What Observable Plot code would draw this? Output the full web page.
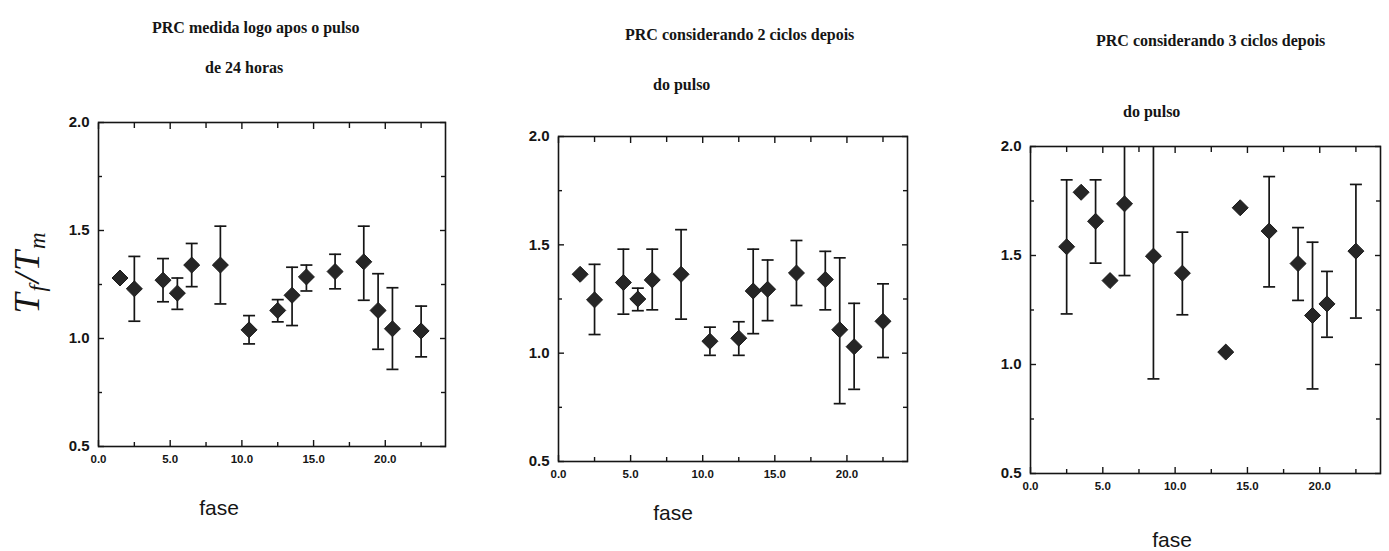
<!DOCTYPE html>
<html><head><meta charset="utf-8">
<script src="https://cdn.jsdelivr.net/npm/d3@7"></script>
<script src="https://cdn.jsdelivr.net/npm/@observablehq/plot@0.6"></script>
<style>
body{margin:0;background:#fff;}
#root{position:relative;width:1389px;height:551px;overflow:hidden;background:#fff;}
.t{position:absolute;font-family:"Liberation Serif",serif;font-weight:bold;font-size:16px;line-height:16px;white-space:nowrap;color:#151515;}
.fase{position:absolute;font-family:"Liberation Sans",Arial,sans-serif;font-size:21px;line-height:21px;color:#151515;transform:translateX(-50%);white-space:nowrap;}
.panel{position:absolute;}
.ylab{position:absolute;font-family:"Liberation Serif",serif;font-style:italic;font-size:36px;line-height:40px;white-space:nowrap;color:#151515;transform:translate(-50%,-50%) rotate(-90deg);letter-spacing:2px;padding:0 4px;}
.ylab sub{font-size:23px;vertical-align:-6px;line-height:0;}
svg.panel g[aria-label="x-axis tick label"]{font-size:11.5px;font-weight:bold;font-family:"Liberation Sans",Arial,sans-serif;}
svg.panel g[aria-label="y-axis tick label"]{font-size:15px;font-weight:bold;font-family:"Liberation Sans",Arial,sans-serif;}
</style></head><body>
<div id="root"></div>
<script>
// ---- data ----
const titles1 = ["PRC medida logo apos o pulso", "de 24 horas"];
const titles2 = ["PRC considerando 2 ciclos depois", "do pulso"];
const titles3 = ["PRC considerando 3 ciclos depois", "do pulso"];
const xLabel = "fase";

const xTicks = [0, 5, 10, 15, 20];
const xMinor = [2.5, 7.5, 12.5, 17.5, 22.5];
const yTicks = [0.5, 1.0, 1.5, 2.0];
const yMinor = [0.75, 1.25, 1.75];
const xDomain = [0, 24.2];
const yDomain = [0.5, 2.0];

const fase1 = [1.5, 2.5, 4.5, 5.5, 6.5, 8.5, 10.5, 12.5, 13.5, 14.5, 16.5, 18.5, 19.5, 20.5, 22.5];
const val1  = [1.28, 1.23, 1.27, 1.21, 1.34, 1.34, 1.04, 1.13, 1.20, 1.285, 1.31, 1.355, 1.13, 1.045, 1.035];
const lo1   = [null, 1.08, 1.17, 1.135, 1.24, 1.16, 0.975, 1.077, 1.06, 1.22, 1.23, 1.177, 0.95, 0.857, 0.915];
const hi1   = [null, 1.38, 1.37, 1.28, 1.44, 1.52, 1.106, 1.18, 1.33, 1.34, 1.39, 1.52, 1.30, 1.235, 1.15];

const fase2 = [1.5, 2.5, 4.5, 5.5, 6.5, 8.5, 10.5, 12.5, 13.5, 14.5, 16.5, 18.5, 19.5, 20.5, 22.5];
const val2  = [1.364, 1.246, 1.326, 1.25, 1.338, 1.364, 1.055, 1.069, 1.287, 1.295, 1.37, 1.34, 1.108, 1.03, 1.147];
const lo2   = [null, 1.086, 1.18, 1.196, 1.2, 1.157, 0.99, 0.99, 1.09, 1.15, 1.22, 1.2, 0.767, 0.833, 0.98];
const hi2   = [null, 1.41, 1.48, 1.30, 1.48, 1.57, 1.12, 1.145, 1.48, 1.43, 1.52, 1.47, 1.44, 1.23, 1.32];

const fase3 = [2.5, 3.5, 4.5, 5.5, 6.5, 8.5, 10.5, 13.5, 14.5, 16.5, 18.5, 19.5, 20.5, 22.5];
const val3  = [1.54, 1.79, 1.657, 1.385, 1.737, 1.497, 1.419, 1.057, 1.719, 1.612, 1.463, 1.225, 1.278, 1.52];
const lo3   = [1.232, null, 1.465, null, 1.408, 0.934, 1.228, null, null, 1.356, 1.294, 0.888, 1.125, 1.213];
const hi3   = [1.847, null, 1.847, null, 2.07, 2.06, 1.607, null, null, 1.862, 1.628, 1.561, 1.427, 1.826];

// ---- layout ----
const root = document.getElementById("root");
const ink = "#151515";
const cap = {draw(ctx) { ctx.moveTo(-6, 0); ctx.lineTo(6, 0); }};
const fmt = d3.format(".1f");

function panel(fase, val, lo, hi, frameLeft, frameTop, w, h) {
  const pts = fase.map((f, i) => ({f, v: val[i], lo: lo[i], hi: hi[i]}));
  const bars = pts.filter(d => d.lo != null);
  const ml = 48, mr = 8, mt = 10, mb = 30;
  const svg = Plot.plot({
    width: ml + w + mr, height: mt + h + mb,
    marginLeft: ml, marginRight: mr, marginTop: mt, marginBottom: mb,
    x: {domain: xDomain, label: null},
    y: {domain: yDomain, label: null},
    style: {background: "transparent", color: ink, fontFamily: "Liberation Sans, Arial, sans-serif", fontWeight: "bold", fontSize: "13px"},
    marks: [
      Plot.axisX(xTicks, {anchor: "bottom", tickSize: -6, tickPadding: 14, tickFormat: fmt, fontSize: 11.5, strokeWidth: 1.4, label: null}),
      Plot.axisX(xMinor, {anchor: "bottom", tickSize: -4, fill: "none", strokeWidth: 1.4, label: null}),
      Plot.axisX(xTicks, {anchor: "top", tickSize: -6, fill: "none", strokeWidth: 1.4, label: null}),
      Plot.axisX(xMinor, {anchor: "top", tickSize: -5, fill: "none", strokeWidth: 1.4, label: null}),
      Plot.axisY(yTicks, {anchor: "left", tickSize: -6, tickPadding: 15, tickFormat: fmt, fontSize: 15, strokeWidth: 1.4, label: null}),
      Plot.axisY(yMinor, {anchor: "left", tickSize: -4, fill: "none", strokeWidth: 1.4, label: null}),
      Plot.axisY(yTicks, {anchor: "right", tickSize: -6, fill: "none", strokeWidth: 1.4, label: null}),
      Plot.axisY(yMinor, {anchor: "right", tickSize: -5, fill: "none", strokeWidth: 1.4, label: null}),
      Plot.frame({stroke: ink, strokeWidth: 1.6}),
      Plot.ruleX(bars, {x: "f", y1: "lo", y2: "hi", stroke: ink, strokeWidth: 1.7, clip: true}),
      Plot.dot(bars, {x: "f", y: "lo", symbol: cap, fill: "none", stroke: ink, strokeWidth: 1.7, clip: true}),
      Plot.dot(bars, {x: "f", y: "hi", symbol: cap, fill: "none", stroke: ink, strokeWidth: 1.7, clip: true}),
      Plot.dot(pts, {x: "f", y: "v", symbol: "diamond2", r: 7.2, fill: "#262626", stroke: "#1a1a1a", strokeWidth: 1})
    ]
  });
  svg.classList.add("panel");
  svg.style.left = (frameLeft - ml) + "px";
  svg.style.top = (frameTop - mt) + "px";
  root.appendChild(svg);
}

function text(cls, str, left, top) {
  const d = document.createElement("div");
  d.className = cls;
  d.textContent = str;
  d.style.left = left + "px";
  d.style.top = top + "px";
  root.appendChild(d);
  return d;
}

panel(fase1, val1, lo1, hi1, 98, 122, 347, 324);
panel(fase2, val2, lo2, hi2, 558, 136, 349, 325);
panel(fase3, val3, lo3, hi3, 1030, 146, 350, 327);

text("t", titles1[0], 152, 20);
text("t", titles1[1], 205, 60);
text("t", titles2[0], 625, 27);
text("t", titles2[1], 653, 77);
text("t", titles3[0], 1096, 33);
text("t", titles3[1], 1123, 104);

text("fase", xLabel, 219, 497);
text("fase", xLabel, 673, 502);
text("fase", xLabel, 1172, 529);

const yl = document.createElement("div");
yl.className = "ylab";
yl.innerHTML = "T<sub>f</sub>/T<sub>m</sub>";
yl.style.left = "27px";
yl.style.top = "272px";
root.appendChild(yl);
</script>
</body></html>
